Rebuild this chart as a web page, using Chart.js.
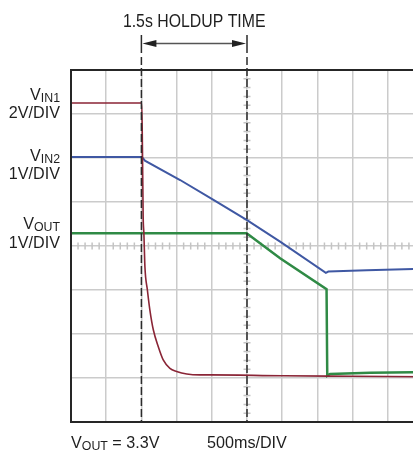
<!DOCTYPE html>
<html>
<head>
<meta charset="utf-8">
<script src="https://cdn.jsdelivr.net/npm/chart.js@4.4.1/dist/chart.umd.min.js"></script>
<style>
  html, body { margin: 0; padding: 0; background: #fff; overflow: hidden; }
  canvas { display: block; }
</style>
</head>
<body>
<canvas id="scope" width="440" height="451"></canvas>
<script>
// time in divisions (500ms/DIV), level in divisions from the bottom of the screen
const vin1T = [0, 2.01, 2.03, 2.05, 2.07, 2.10, 2.17, 2.24, 2.34, 2.48, 2.62, 2.81, 3.00, 3.29, 3.66, 3.95, 6.0, 8.0, 10];
const vin1V = [7.25, 7.25, 6.18, 4.67, 4.30, 3.53, 3.00, 2.55, 2.09, 1.71, 1.41, 1.22, 1.15, 1.09, 1.07, 1.07, 1.05, 1.04, 1.03];

const vin2T = [0, 2.01, 2.06, 2.10, 3.10, 4.00, 5.00, 5.94, 7.24, 7.31, 8.40, 9.72, 10];
const vin2V = [6.02, 6.02, 5.98, 5.94, 5.50, 5.07, 4.59, 4.10, 3.39, 3.42, 3.45, 3.48, 3.48];

const voutT = [0, 4.99, 5.94, 7.26, 7.28, 7.36, 8.50, 9.72, 10];
const voutV = [4.29, 4.29, 3.72, 3.02, 1.05, 1.09, 1.12, 1.13, 1.13];

const markers = [2, 5];          // holdup window edges
const holdupLabel = '1.5s HOLDUP TIME';

const FONT = '"Liberation Sans", Arial, sans-serif';

function pts(t, v) {
  return t.map((x, i) => ({ x: x, y: v[i] }));
}

function textW(ctx, s, size, k) {
  ctx.font = size + 'px ' + FONT;
  return ctx.measureText(s).width * k;
}

function put(ctx, s, x, y, size, k) {
  ctx.save();
  ctx.font = size + 'px ' + FONT;
  ctx.textAlign = 'left';
  ctx.textBaseline = 'alphabetic';
  ctx.translate(x, y);
  ctx.scale(k, 1);
  ctx.fillText(s, 0, 0);
  ctx.restore();
}

// V with subscript, e.g. V + IN1; returns width
function putSub(ctx, main, sub, x, y, size, k) {
  put(ctx, main, x, y, size, k);
  const w = textW(ctx, main, size, k);
  put(ctx, sub, x + w, y + 2, size - 4, k);
  return w + textW(ctx, sub, size - 4, k);
}

const scopeDeco = {
  id: 'scopeDeco',
  beforeDatasetsDraw(chart) {
    const { ctx, scales: { x, y } } = chart;
    // minor ticks on the centre cross
    ctx.save();
    ctx.strokeStyle = '#c4c4c4';
    ctx.lineWidth = 1.5;
    const cy = y.getPixelForValue(4);
    const cx = x.getPixelForValue(5);
    ctx.beginPath();
    for (let i = 1; i < 50; i++) {
      if (i % 5 === 0) continue;
      const px = x.getPixelForValue(i / 5);
      ctx.moveTo(px, cy - 3.5);
      ctx.lineTo(px, cy + 3.5);
    }
    for (let i = 1; i < 40; i++) {
      if (i % 5 === 0) continue;
      const py = y.getPixelForValue(i / 5);
      ctx.moveTo(cx - 3.5, py);
      ctx.lineTo(cx + 3.5, py);
    }
    ctx.stroke();
    ctx.restore();
  },
  afterDatasetsDraw(chart) {
    const { ctx, chartArea: a, scales: { x } } = chart;
    ctx.save();

    // frame
    ctx.strokeStyle = '#262626';
    ctx.lineWidth = 2;
    ctx.strokeRect(a.left, a.top, a.right - a.left, a.bottom - a.top);

    // holdup markers
    const x1 = x.getPixelForValue(markers[0]);
    const x2 = x.getPixelForValue(markers[1]);
    ctx.strokeStyle = '#2b2b2b';
    ctx.lineWidth = 1.5;
    ctx.setLineDash([8, 3]);
    ctx.beginPath();
    [x1, x2].forEach(px => {
      ctx.moveTo(px, 57);
      ctx.lineTo(px, a.bottom);
    });
    ctx.stroke();
    ctx.setLineDash([]);

    ctx.beginPath();
    [x1, x2].forEach(px => {
      ctx.moveTo(px, 35);
      ctx.lineTo(px, 53);
    });
    ctx.stroke();

    // arrow
    const ay = 43.5;
    ctx.strokeStyle = '#555';
    ctx.beginPath();
    ctx.moveTo(x1 + 8, ay);
    ctx.lineTo(x2 - 8, ay);
    ctx.stroke();
    ctx.fillStyle = '#222';
    ctx.beginPath();
    ctx.moveTo(x1 + 1, ay);
    ctx.lineTo(x1 + 15, ay - 3.5);
    ctx.lineTo(x1 + 15, ay + 3.5);
    ctx.closePath();
    ctx.moveTo(x2 - 1, ay);
    ctx.lineTo(x2 - 15, ay - 3.5);
    ctx.lineTo(x2 - 15, ay + 3.5);
    ctx.closePath();
    ctx.fill();

    // texts
    ctx.fillStyle = '#1f1f1f';
    const tk = 0.88;
    const tw = textW(ctx, holdupLabel, 18, tk);
    put(ctx, holdupLabel, (x1 + x2) / 2 - tw / 2, 27, 18, tk);

    const lk = 0.95;
    const rx = a.left - 11;
    const labels = [
      ['V', 'IN1', '2V/DIV', 100, 118],
      ['V', 'IN2', '1V/DIV', 161, 179],
      ['V', 'OUT', '1V/DIV', 229, 248]
    ];
    labels.forEach(([m, s, d, y1, y2]) => {
      const w = textW(ctx, m, 17, lk) + textW(ctx, s, 13, lk);
      putSub(ctx, m, s, rx - w, y1, 17, lk);
      put(ctx, d, rx - textW(ctx, d, 17, lk), y2, 17, lk);
    });

    const bw = putSub(ctx, 'V', 'OUT', a.left, 448, 17, lk);
    put(ctx, ' = 3.3V', a.left + bw, 448, 17, lk);
    put(ctx, '500ms/DIV', 207, 448, 17, lk);

    ctx.restore();
  }
};

const gridOpts = {
  color: '#cbcbcb',
  lineWidth: 1.5,
  drawTicks: false
};

new Chart(document.getElementById('scope'), {
  type: 'line',
  data: {
    datasets: [
      {
        label: 'VIN1',
        data: pts(vin1T, vin1V),
        borderColor: '#8a2536',
        borderWidth: 1.6,
        pointRadius: 0,
        cubicInterpolationMode: 'monotone'
      },
      {
        label: 'VIN2',
        data: pts(vin2T, vin2V),
        borderColor: '#3f58a3',
        borderWidth: 2,
        pointRadius: 0,
        tension: 0
      },
      {
        label: 'VOUT',
        data: pts(voutT, voutV),
        borderColor: '#2f8a45',
        borderWidth: 2.5,
        pointRadius: 0,
        tension: 0
      }
    ]
  },
  options: {
    responsive: false,
    animation: false,
    events: [],
    layout: { padding: { left: 71, top: 70, right: 17, bottom: 29 } },
    scales: {
      x: {
        type: 'linear',
        min: 0,
        max: 10,
        ticks: { display: false, stepSize: 1 },
        grid: gridOpts,
        border: { display: false },
        afterFit: s => { s.height = 0; }
      },
      y: {
        type: 'linear',
        min: 0,
        max: 8,
        ticks: { display: false, stepSize: 1 },
        grid: gridOpts,
        border: { display: false },
        afterFit: s => { s.width = 0; }
      }
    },
    plugins: {
      legend: { display: false },
      tooltip: { enabled: false }
    }
  },
  plugins: [scopeDeco]
});
</script>
</body>
</html>
